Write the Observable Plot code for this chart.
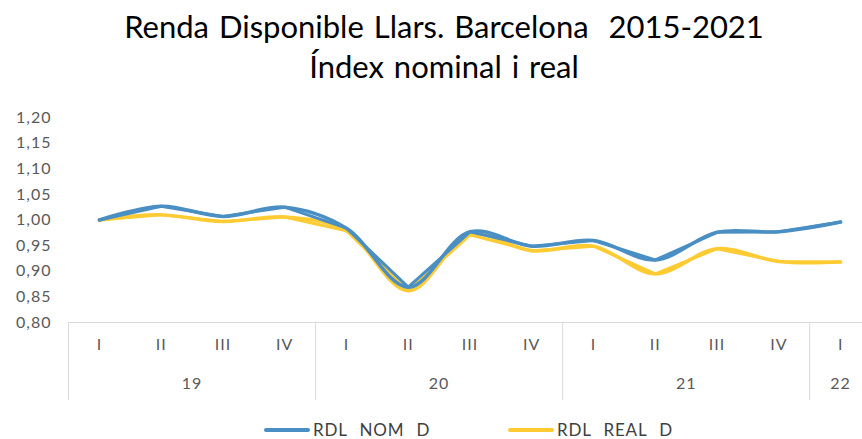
<!DOCTYPE html>
<html>
<head>
<meta charset="utf-8">
<script src="https://cdn.jsdelivr.net/npm/d3@7"></script>
<script src="https://cdn.jsdelivr.net/npm/@observablehq/plot@0.6"></script>
<style>
  html, body { margin: 0; padding: 0; background: #fff; overflow: hidden; width: 862px; height: 439px; }
  #title { font-family: Lato, "Noto Sans", sans-serif; font-size: 31px; color: #000; text-align: center; word-spacing: 2px;
           padding-left: 26px; line-height: 40px; height: 100px; box-sizing: border-box; padding-top: 6px; white-space: pre; }
  #legend { position: relative; height: 34px; font-family: Lato, "Noto Sans", sans-serif; font-size: 17px; color: #404040;
            letter-spacing: 0.8px; word-spacing: 1px; line-height: 16px; }
  .item { position: absolute; top: 17px; height: 16px; display: flex; align-items: center; white-space: pre; }
  .sw { width: 46px; height: 4px; border-radius: 2px; margin-right: 3px; }
  #chart svg text { letter-spacing: 1px; }
</style>
</head>
<body>
<div id="title">Renda Disponible Llars. Barcelona  2015-2021
Índex nominal i real</div>
<div id="chart"></div>
<div id="legend"></div>
<script>
// ---- data ----
const quarters = ["I","II","III","IV","I","II","III","IV","I","II","III","IV","I"];
const years = ["19","20","21","22"];
const yearStart = [0, 4, 8, 12];   // first quarter index of each year
const yearCount = [4, 4, 4, 1];    // quarters shown per year
const seriesNames = ["RDL  NOM  D", "RDL  REAL  D"];
const nomValues  = [1.000, 1.027, 1.007, 1.025, 0.984, 0.869, 0.977, 0.949, 0.960, 0.922, 0.976, 0.977, 0.996];
const realValues = [1.000, 1.010, 0.997, 1.006, 0.979, 0.862, 0.971, 0.940, 0.949, 0.895, 0.944, 0.919, 0.918];
const yTicks = [0.80, 0.85, 0.90, 0.95, 1.00, 1.05, 1.10, 1.15, 1.20];
const colors = ["#4a8fc4", "#ffcb33"];

// ---- build ----
const rows = [];
quarters.forEach((q, i) => {
  rows.push({i, v: nomValues[i], s: seriesNames[0]});
  rows.push({i, v: realValues[i], s: seriesNames[1]});
});
const quarterRows = quarters.map((q, i) => ({i, q}));
const yearRows = years.map((y, k) => ({y, c: yearStart[k] + (yearCount[k] - 1) / 2}));
const separators = yearStart.map(s => s - 0.5);
const yMin = yTicks[0];
const fmt = d => d3.format(".2f")(d).replace(".", ",");

const H = 305, MT = 17, MB = 83;
const plot = Plot.plot({
  width: 862,
  height: H,
  marginLeft: 68,
  marginRight: -9,
  marginTop: MT,
  marginBottom: MB,
  style: {fontFamily: "Lato, 'Noto Sans', sans-serif", fontSize: "16px", color: "#595959", background: "#fff", overflow: "visible"},
  x: {domain: [-0.5, quarters.length - 0.5], axis: null},
  y: {domain: [yTicks[0], yTicks[yTicks.length - 1]], axis: null},
  color: {domain: seriesNames, range: colors},
  marks: [
    Plot.ruleY([yMin], {stroke: "#d9d9d9", strokeWidth: 1}),
    Plot.ruleX(separators, {x: d => d, insetTop: H - MT - MB, insetBottom: -78, stroke: "#d9d9d9", strokeWidth: 1}),
    Plot.axisY({ticks: yTicks, tickFormat: fmt, tickSize: 0, tickPadding: 17, fontSize: 16, fill: "#595959", label: null}),
    Plot.text(quarterRows, {x: "i", text: "q", frameAnchor: "bottom", dy: 27, fontSize: 16, fill: "#595959"}),
    Plot.text(yearRows, {x: "c", text: "y", frameAnchor: "bottom", dy: 66, fontSize: 16, fill: "#595959"}),
    // REAL first, NOM on top
    Plot.line(rows.filter(d => d.s === seriesNames[1]), {x: "i", y: "v", stroke: "s", strokeWidth: 3.5, curve: "catmull-rom", strokeLinecap: "round"}),
    Plot.line(rows.filter(d => d.s === seriesNames[1]), {x: "i", y: "v", stroke: "s", strokeWidth: 3, curve: "linear", strokeLinecap: "round"}),
    Plot.line(rows.filter(d => d.s === seriesNames[0]), {x: "i", y: "v", stroke: "s", strokeWidth: 3.5, curve: "catmull-rom", strokeLinecap: "round"}),
    Plot.line(rows.filter(d => d.s === seriesNames[0]), {x: "i", y: "v", stroke: "s", strokeWidth: 3, curve: "linear", strokeLinecap: "round"})
  ]
});
document.getElementById("chart").appendChild(plot);

const legend = document.getElementById("legend");
const legendLeft = [264, 508];
seriesNames.forEach((name, k) => {
  const item = document.createElement("div");
  item.className = "item";
  item.style.left = legendLeft[k] + "px";
  const sw = document.createElement("span");
  sw.className = "sw";
  sw.style.background = colors[k];
  const tx = document.createElement("span");
  tx.textContent = name;
  item.appendChild(sw);
  item.appendChild(tx);
  legend.appendChild(item);
});
</script>
</body>
</html>
